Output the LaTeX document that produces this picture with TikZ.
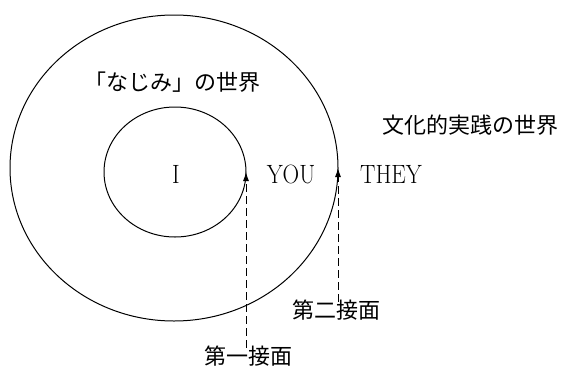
\documentclass[tikz,border=0pt]{standalone}
\usepackage{fontspec}
\usepackage{graphicx}
\newfontfamily\jp{Noto Sans CJK JP}
\usetikzlibrary{shapes.geometric,arrows.meta}
\begin{document}
\begin{tikzpicture}[x=1pt,y=-1pt,
  ring/.style={draw, ellipse, inner sep=0pt, outer sep=0pt, line width=1pt},
  jlabel/.style={font=\jp\fontsize{22}{22}\selectfont, inner sep=0pt},
  elabel/.style={font=\fontsize{23}{23}\selectfont, inner sep=0pt},
  contact/.style={dash pattern=on 8pt off 4pt, line width=0.9pt, -{Latex[length=9pt,width=6pt]}}]
\useasboundingbox (0,0) rectangle (561,367);
\node[ring, minimum width=328pt, minimum height=306pt] (outer) at (174,168) {};
\node[ring, minimum width=142pt, minimum height=130pt] (inner) at (175,172) {};
\node[jlabel] (najimi) at (172,82) {「なじみ」の世界};
\node[jlabel] (bunka) at (470,125) {文化的実践の世界};
\node[elabel] (i) at (176,174) {\scalebox{1}[1.15]{I}};
\node[elabel] (you) at (291,174) {\scalebox{1}[1.15]{YOU}};
\node[elabel] (they) at (391,174) {\scalebox{1}[1.15]{THEY}};
\node[jlabel] (s2) at (336,310) {第二接面};
\node[jlabel] (s1) at (248,356) {第一接面};
\draw[contact] ([yshift=-2pt]inner.east |- s1.north) -- (inner.east);
\draw[contact] ([yshift=-2pt]outer.east |- s2.north) -- (outer.east);
\end{tikzpicture}
\end{document}
